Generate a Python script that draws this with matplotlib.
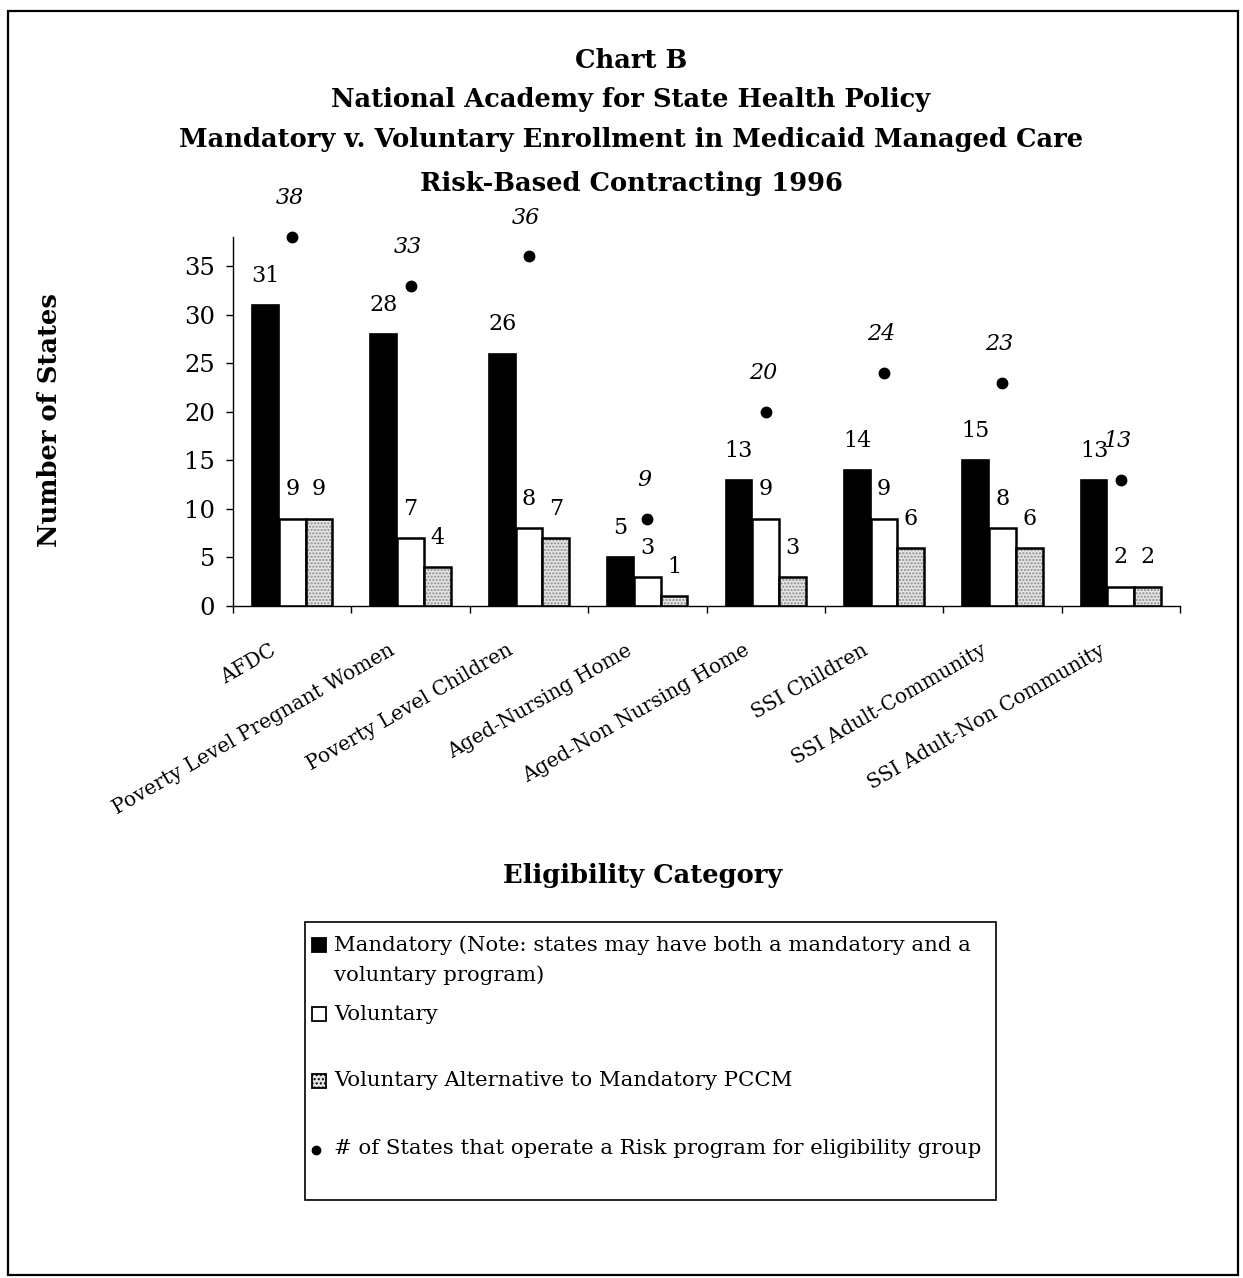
import numpy as np
import matplotlib
matplotlib.use("Agg")
import matplotlib.pyplot as plt
from matplotlib.patches import Rectangle
from matplotlib.lines import Line2D
from matplotlib.transforms import ScaledTranslation

plt.rcParams['font.family'] = ['DejaVu Serif']
plt.rcParams['hatch.linewidth'] = 1.0

categories = ['AFDC', 'Poverty Level Pregnant Women', 'Poverty Level Children',
              'Aged-Nursing Home', 'Aged-Non Nursing Home', 'SSI Children',
              'SSI Adult-Community', 'SSI Adult-Non Community']
mandatory = [31, 28, 26, 5, 13, 14, 15, 13]
voluntary = [9, 7, 8, 3, 9, 9, 8, 2]
alternative = [9, 4, 7, 1, 3, 6, 6, 2]
risk_states = [38, 33, 36, 9, 20, 24, 23, 13]

title_lines = ['Chart B',
               'National Academy for State Health Policy',
               'Mandatory v. Voluntary Enrollment in Medicaid Managed Care',
               'Risk-Based Contracting 1996']
legend_labels = ['Mandatory (Note: states may have both a mandatory and a\nvoluntary program)',
                 'Voluntary',
                 'Voluntary Alternative to Mandatory PCCM',
                 '# of States that operate a Risk program for eligibility group']

W, H = 1243, 1278
fig = plt.figure(figsize=(W / 100, H / 100), dpi=100)


def fx(px):
    return px / W


def fy(py):
    return 1 - py / H


# outer frame
fig.patches.append(Rectangle((fx(8), fy(1275)), fx(1238) - fx(8), fy(11) - fy(1275),
                             transform=fig.transFigure, fill=False, lw=1.6, ec='black'))

title_y = [60, 100, 140, 183]
for txt, y in zip(title_lines, title_y):
    fig.text(fx(631), fy(y), txt, ha='center', va='center',
             fontsize=18.5, fontweight='bold')

ax = fig.add_axes([fx(233), fy(606), fx(1180) - fx(233), fy(237) - fy(606)])

x = np.arange(len(categories)) + 0.5
w = 0.226
ax.bar(x - w, mandatory, w, color='black', edgecolor='black', lw=1.2, zorder=2)
ax.bar(x, voluntary, w, color='white', edgecolor='black', lw=1.8, zorder=2)
ax.bar(x + w, alternative, w, color='#e4e4e4', edgecolor='#8a8a8a', lw=0,
       hatch='.....', zorder=2)
ax.bar(x + w, alternative, w, fill=False, edgecolor='black', lw=1.8, zorder=3)
ax.plot(x, risk_states, 'o', color='black', ms=7.5, zorder=4, clip_on=False)

label_kw = dict(textcoords='offset points', ha='center', va='center', fontsize=16)
for xs, vals in [(x - w, mandatory), (x, voluntary), (x + w, alternative)]:
    for xi, v in zip(xs, vals):
        ax.annotate(str(v), (xi, v), xytext=(0, 21), **label_kw)
for xi, v in zip(x, risk_states):
    ax.annotate(str(v), (xi, v), xytext=(-2, 28), style='italic',
                annotation_clip=False, **label_kw)

ax.set_xlim(0, len(categories))
ax.set_ylim(0, 38)
ax.set_yticks(np.arange(0, 36, 5))
ax.tick_params(axis='y', labelsize=17.5, length=5, width=1, pad=8)
ax.set_xticks(np.arange(0, len(categories) + 1))
ax.set_xticklabels([])
ax.tick_params(axis='x', which='major', length=5, width=1, direction='out')
ax.set_xticks(x, minor=True)
ax.set_xticklabels(categories, minor=True, rotation=30, ha='right',
                   rotation_mode='anchor', fontsize=14.5)
ax.tick_params(axis='x', which='minor', length=0, pad=25)
shift = ScaledTranslation(-0.22, 0, fig.dpi_scale_trans)
for lbl in ax.get_xticklabels(minor=True):
    lbl.set_transform(lbl.get_transform() + shift)
for side in ['top', 'right']:
    ax.spines[side].set_visible(False)
ax.spines['left'].set_linewidth(1)
ax.spines['bottom'].set_linewidth(1)

fig.text(fx(50), fy(420), 'Number of States', rotation=90, ha='center', va='center',
         fontsize=18.5, fontweight='bold')
fig.text(fx(643), fy(875), 'Eligibility Category', ha='center', va='center',
         fontsize=18.5, fontweight='bold')

# legend box
fig.patches.append(Rectangle((fx(305), fy(1200)), fx(996) - fx(305), fy(922) - fy(1200),
                             transform=fig.transFigure, fill=False, lw=1.2, ec='black'))
sq = 14
swatches = [dict(fc='black', ec='black'), dict(fc='white', ec='black'),
            dict(fc='#e4e4e4', ec='black', hatch='....')]
rows_y = [945, 1014, 1081]
for st, y in zip(swatches, rows_y):
    fig.patches.append(Rectangle((fx(312), fy(y + sq / 2)), fx(sq), fy(0) - fy(sq),
                                 transform=fig.transFigure, lw=1.3, **st))
fig.lines.append(Line2D([fx(316)], [fy(1150)], marker='o', color='black', ms=6,
                        transform=fig.transFigure))
fig.text(fx(334), fy(945), legend_labels[0].split('\n')[0], va='center', fontsize=15.3)
fig.text(fx(334), fy(975), legend_labels[0].split('\n')[1], va='center', fontsize=15.3)
for txt, y in zip(legend_labels[1:], [1014, 1081, 1149]):
    fig.text(fx(334), fy(y), txt, va='center', fontsize=15.3)

fig.savefig('out.png', dpi=100)
